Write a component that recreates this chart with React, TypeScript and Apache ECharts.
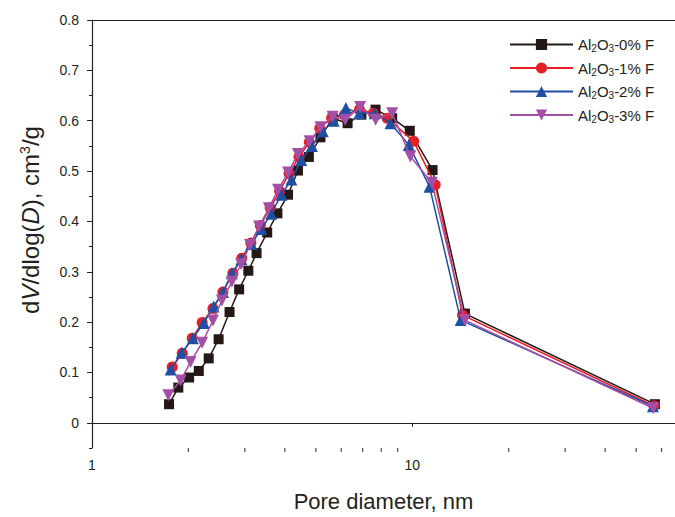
import React, { useEffect, useRef } from "react";
import * as echarts from "echarts";

// Pore diameter (nm) and dV/dlog(D) (cm3/g) per sample
const names = ["Al2O3-0% F", "Al2O3-1% F", "Al2O3-2% F", "Al2O3-3% F"];
const legendLabels = ["-0% F", "-1% F", "-2% F", "-3% F"];

const x0 = [1.74, 1.86, 2.01, 2.155, 2.314, 2.485, 2.688, 2.88, 3.077, 3.265, 3.524, 3.793, 4.093, 4.396, 4.754, 5.167, 5.641, 6.28, 6.936, 7.68, 8.653, 9.82, 11.57, 14.6, 57.2];
const y0 = [0.037, 0.07, 0.09, 0.103, 0.128, 0.166, 0.22, 0.265, 0.302, 0.337, 0.378, 0.416, 0.453, 0.501, 0.528, 0.567, 0.605, 0.595, 0.612, 0.622, 0.605, 0.58, 0.502, 0.217, 0.037];

const x1 = [1.78, 1.913, 2.055, 2.207, 2.386, 2.563, 2.752, 2.935, 3.133, 3.353, 3.6, 3.853, 4.123, 4.428, 4.771, 5.142, 5.601, 6.145, 6.839, 7.555, 8.35, 10.1, 11.79, 14.35, 56.8];
const y1 = [0.111, 0.138, 0.168, 0.199, 0.227, 0.26, 0.297, 0.327, 0.357, 0.392, 0.427, 0.46, 0.495, 0.528, 0.557, 0.585, 0.605, 0.612, 0.622, 0.615, 0.605, 0.559, 0.473, 0.214, 0.034];

const x2 = [1.761, 1.905, 2.065, 2.234, 2.398, 2.563, 2.733, 2.928, 3.145, 3.377, 3.626, 3.903, 4.193, 4.5, 4.858, 5.253, 5.682, 6.203, 6.839, 7.63, 8.55, 9.75, 11.32, 14.16, 56.4];
const y2 = [0.106, 0.139, 0.168, 0.198, 0.231, 0.26, 0.297, 0.325, 0.355, 0.385, 0.415, 0.453, 0.483, 0.522, 0.55, 0.579, 0.6, 0.625, 0.615, 0.615, 0.595, 0.552, 0.469, 0.204, 0.033];

const x3 = [1.731, 1.891, 2.031, 2.207, 2.386, 2.545, 2.733, 2.922, 3.115, 3.322, 3.567, 3.812, 4.094, 4.396, 4.778, 5.167, 5.641, 6.176, 6.873, 7.682, 8.653, 9.86, 11.51, 14.59, 56.5];
const y3 = [0.055, 0.084, 0.121, 0.159, 0.203, 0.243, 0.28, 0.315, 0.353, 0.39, 0.426, 0.463, 0.497, 0.534, 0.559, 0.587, 0.608, 0.602, 0.627, 0.602, 0.615, 0.529, 0.477, 0.204, 0.029];

const minorXTicks = [2, 3, 4, 5, 6, 7, 8, 9, 20, 30, 40, 50, 60];
const colors = ["#231815", "#e61e25", "#1d4fa3", "#a54ea5"];
const symbols = ["rect", "circle", "triangle", "triangle"];
const symbolSizes = [10, 11, 12, 12];
const symbolRotates = [0, 0, 0, 180];

const FONT = "'Liberation Sans', Arial, sans-serif";
const TXT = "#231f20";

export default function App() {
  const ref = useRef<HTMLDivElement>(null);
  useEffect(() => {
    if (!ref.current) return;
    const chart = echarts.init(ref.current, undefined, { renderer: "svg" });
    const xs = [x0, x1, x2, x3];
    const ys = [y0, y1, y2, y3];
    const xMax = 66.1;
    const lineSeries = names.map((n, i) => ({
      name: n,
      type: "line",
      xAxisIndex: 0,
      yAxisIndex: 0,
      data: xs[i].map((v, k) => [v, ys[i][k]]),
      symbol: symbols[i],
      symbolSize: symbolSizes[i],
      symbolRotate: symbolRotates[i],
      showAllSymbol: true,
      itemStyle: { color: colors[i] },
      lineStyle: { color: colors[i], width: 1.5 },
      z: 3 + i,
    }));
    chart.setOption({
      animation: false,
      textStyle: { fontFamily: FONT },
      grid: [
        { left: 92, top: 20, width: 588, height: 428 },
        { left: 92, top: 20, width: 588, height: 402.8 },
      ],
      xAxis: [
        {
          type: "log",
          gridIndex: 0,
          min: 1,
          max: xMax,
          logBase: 10,
          position: "bottom",
          axisLine: { lineStyle: { color: TXT, width: 1.2 } },
          axisTick: { length: 4, lineStyle: { color: TXT } },
          axisLabel: { fontSize: 14, color: TXT, margin: 10, showMaxLabel: false, fontFamily: FONT },
          splitLine: { show: false },
          name: "Pore diameter, nm",
          nameLocation: "middle",
          nameGap: 42,
          nameTextStyle: { fontSize: 22, color: TXT, fontFamily: FONT },
        },
        {
          type: "log",
          gridIndex: 0,
          min: 1,
          max: xMax,
          position: "top",
          axisLine: { lineStyle: { color: TXT, width: 1.2 } },
          axisTick: { show: false },
          axisLabel: { show: false },
          splitLine: { show: false },
        },
        { type: "value", gridIndex: 1, show: false },
      ],
      yAxis: [
        {
          type: "value",
          gridIndex: 0,
          min: -0.05,
          max: 0.8,
          interval: 0.05,
          axisLine: { show: true, lineStyle: { color: TXT, width: 1.2 } },
          axisTick: { show: true, length: 3, lineStyle: { color: TXT } },
          axisLabel: { show: false },
          splitLine: { show: false },
        },
        {
          type: "value",
          gridIndex: 1,
          min: 0,
          max: 0.8,
          interval: 0.1,
          axisLine: { show: false },
          axisTick: { show: true, length: 5, lineStyle: { color: TXT } },
          axisLabel: { fontSize: 14, color: TXT, margin: 13, fontFamily: FONT },
          splitLine: { show: false },
        },
      ],
      legend: {
        data: names,
        orient: "vertical",
        left: 509,
        top: 37,
        padding: 0,
        itemWidth: 63,
        itemHeight: 14,
        itemGap: 7,
        selectedMode: false,
        formatter: (name: string) => {
          const i = names.indexOf(name);
          return "{n|Al}{s|2}{n|O}{s|3}{n|" + legendLabels[i] + "}";
        },
        textStyle: {
          color: TXT,
          fontFamily: FONT,
          rich: {
            n: { fontSize: 15, lineHeight: 18, color: TXT, fontFamily: FONT },
            s: { fontSize: 10, lineHeight: 10, verticalAlign: "bottom", color: TXT, fontFamily: FONT },
          },
        },
      },
      graphic: [
        {
          type: "text",
          x: 30,
          y: 220,
          rotation: Math.PI / 2,
          style: {
            text: "d{i|V}/dlog({i|D}), cm{p|3}/g",
            fontSize: 24,
            fontFamily: FONT,
            fill: TXT,
            align: "center",
            verticalAlign: "middle",
            rich: {
              i: { fontSize: 24, fontStyle: "italic", fontFamily: FONT, fill: TXT },
              p: { fontSize: 14, verticalAlign: "top", lineHeight: 14, fontFamily: FONT, fill: TXT },
            },
          },
        },
      ],
      series: [
        ...lineSeries,
        {
          name: "minorTicks",
          type: "scatter",
          xAxisIndex: 0,
          yAxisIndex: 0,
          data: minorXTicks.map((v) => [v, -0.05]),
          symbol: "rect",
          symbolSize: [1.2, 4],
          symbolOffset: [0, 2],
          itemStyle: { color: TXT },
          silent: true,
          clip: false,
          z: 1,
        },
      ],
    });
    return () => chart.dispose();
  }, []);
  return (
    <div
      ref={ref}
      style={{ position: "fixed", left: 0, top: 0, width: 675, height: 517, background: "#fff" }}
    />
  );
}
